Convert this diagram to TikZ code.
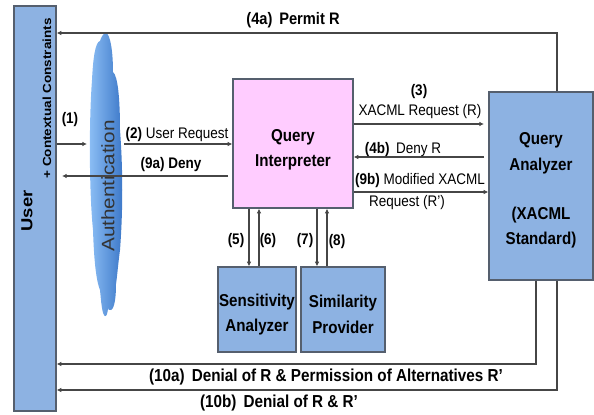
\documentclass[tikz,border=0pt]{standalone}
\usepackage{fontspec}
\setmainfont[FakeStretch=0.88]{Liberation Sans}
\newfontfamily\widefont[FakeStretch=1.15]{Liberation Sans}
\definecolor{boxblue}{RGB}{141,178,226}
\definecolor{boxedge}{RGB}{85,95,110}
\definecolor{querypink}{RGB}{255,204,255}
\definecolor{cloudlight}{RGB}{140,190,245}
\definecolor{clouddark}{RGB}{60,120,200}
\definecolor{wire}{RGB}{70,70,70}
\usetikzlibrary{arrows.meta}
\tikzset{
    block/.style={draw=boxedge, line width=1pt, fill=boxblue, inner sep=0pt},
    blocktext/.style={inner sep=0pt, align=center, font=\fontsize{12.9}{19}\selectfont\bfseries},
    tag/.style={inner sep=0pt, font=\fontsize{11.5}{14}\selectfont},
    boldtag/.style={tag, font=\fontsize{11.5}{14}\selectfont\bfseries},
    longtag/.style={tag, font=\fontsize{13}{15}\selectfont\bfseries},
    wirearrow/.style={draw=wire, line width=0.9pt, -{Latex[length=3.5pt,width=3.5pt]}}
}
\begin{document}
\begin{tikzpicture}[x=0.75pt, y=-0.75pt]
    \useasboundingbox (0,0) rectangle (594,415);
    % boxes
    \node[block, minimum width=42*0.75pt, minimum height=405*0.75pt] (user) at (35,208.5) {};
    \node[block, fill=querypink, minimum width=120*0.75pt, minimum height=129*0.75pt] (interpreter) at (293,143.5) {};
    \node[block, minimum width=104*0.75pt, minimum height=188*0.75pt] (analyzer) at (541,186) {};
    \node[block, minimum width=78*0.75pt, minimum height=85*0.75pt] (sensitivity) at (257,309.5) {};
    \node[block, minimum width=84*0.75pt, minimum height=85*0.75pt] (similarity) at (343,309.5) {};
    \node[blocktext] (interpretertext) at (293,149.5) {Query\\Interpreter};
    \node[blocktext] (analyzertext) at (541,190.5) {Query\\Analyzer\\[1.4em](XACML\\Standard)};
    \node[blocktext] (sensitivitytext) at (257,314.5) {Sensitivity\\Analyzer};
    \node[blocktext] (similaritytext) at (343,314.5) {Similarity\\Provider};
    % cloud
    \shade[left color=cloudlight, right color=clouddark]
    (106,33) .. controls (110,34) and (113,50) .. (113,72)
    .. controls (118,76) and (120,100) .. (120,130)
    .. controls (123,170) and (123,210) .. (120,250)
    .. controls (118,265) and (117,278) .. (116,284)
    .. controls (116,295) and (115,308) .. (111,310)
    .. controls (109,311) and (108,310) .. (108,306)
    .. controls (108,314) and (106,317) .. (105,316)
    .. controls (102,315) and (101,300) .. (100,290)
    .. controls (96,280) and (94,260) .. (93,230)
    .. controls (89,190) and (89,120) .. (92,80)
    .. controls (93,60) and (95,42) .. (100,41)
    .. controls (101,38) and (103,33) .. (106,33);
    \node[rotate=90, inner sep=0pt, font=\widefont\fontsize{13.5}{15}\selectfont, text=black!80] (auth) at (108,186) {Authentication};
    \node[rotate=90, inner sep=0pt, font=\widefont\fontsize{12}{15}\selectfont\bfseries] (usertext) at (27,211) {User};
    \node[rotate=90, inner sep=0pt, font=\widefont\fontsize{8.8}{10}\selectfont\bfseries] (context) at (47,98.5) {+ Contextual Constraints};
    % free ends
    \coordinate (cloudin) at (87,144);
    \coordinate (cloudout) at (124,144);
    \coordinate (denyin) at (228,176);
    \coordinate (denyout) at (62,176);
    \coordinate (reqend) at (484,124);
    \coordinate (denystart) at (484,157);
    \coordinate (permitturn) at (557,33);
    \coordinate (turna) at (536,364);
    \coordinate (turnb) at (557,390);
    % connectors
    \draw[wirearrow] (analyzer.north -| permitturn) -- (permitturn) -- (user.east |- permitturn);
    \draw[wirearrow] (user.east |- cloudin) -- (cloudin);
    \draw[wirearrow] (cloudout) -- (interpreter.west |- cloudout);
    \draw[wirearrow] (denyin) -- (denyout);
    \draw[wirearrow] (interpreter.east |- reqend) -- (reqend);
    \draw[wirearrow] (denystart) -- (interpreter.east |- denystart);
    \draw[wirearrow] (interpreter.east |- 0,192) -- (analyzer.west |- 0,192);
    \draw[wirearrow] (interpreter.south -| 249,0) -- (sensitivity.north -| 249,0);
    \draw[wirearrow] (sensitivity.north -| 259,0) -- (interpreter.south -| 259,0);
    \draw[wirearrow] (interpreter.south -| 317,0) -- (similarity.north -| 317,0);
    \draw[wirearrow] (similarity.north -| 327,0) -- (interpreter.south -| 327,0);
    \draw[wirearrow] (analyzer.south -| turna) -- (turna) -- (user.east |- turna);
    \draw[wirearrow] (analyzer.south -| turnb) -- (turnb) -- (user.east |- turnb);
    % labels
    \node[tag, font=\fontsize{12.5}{14}\selectfont\bfseries] (permitlbl) at (293,20) {(4a)\, Permit R};
    \node[boldtag] (onelbl) at (70,120) {(1)};
    \node[tag] (userreq) at (177,135) {\textbf{(2)} User Request};
    \node[boldtag] (denylbl) at (171,165) {(9a) Deny};
    \node[boldtag] (threelbl) at (419,92) {(3)};
    \node[tag] (xacmlreq) at (420,112) {XACML Request (R)};
    \node[tag] (denyr) at (403,150) {\textbf{(4b)}\, Deny R};
    \node[tag] (modified) at (420,181) {\textbf{(9b)} Modified XACML};
    \node[tag] (requestr) at (407,203) {Request (R’)};
    \node[tag] (fivelbl) at (236,241) {\textbf{(5)}};
    \node[tag] (sixlbl) at (268,241) {\textbf{(6)}};
    \node[tag] (sevenlbl) at (305,241) {\textbf{(7)}};
    \node[tag] (eightlbl) at (337,242) {\textbf{(8)}};
    \node[longtag] (tenalbl) at (326,377) {(10a)\, Denial of R \& Permission of Alternatives R’};
    \node[longtag] (tenblbl) at (279,403) {(10b)\, Denial of R \& R’};
\end{tikzpicture}
\end{document}
